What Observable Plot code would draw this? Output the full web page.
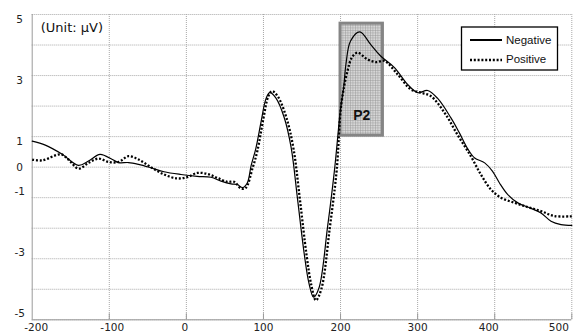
<!DOCTYPE html>
<html><head><meta charset="utf-8">
<script src="https://cdn.jsdelivr.net/npm/d3@7"></script>
<script src="https://cdn.jsdelivr.net/npm/@observablehq/plot@0.6"></script>
<style>
body{margin:0;background:#fff}
#chart{position:relative;width:574px;height:334px}
svg{display:block}
</style>
</head><body><div id="chart"></div>
<script>
// ---- data ----
const negTime  = [-200,-183,-161,-140,-127,-112,-96,-88,-75,-62,-46,-29,-7,14,32,45,58,66,73,79,84,90,97,103,108,116,127,136,144,153,159,165,172,183,192,200,204,207,213,225,239,252,270,287,300,313,326,343,354,365,374,387,397,406,417,430,447,460,473,486,500];
const negValue = [0.85,0.72,0.42,0.06,0.2,0.42,0.25,0.15,0.15,0.09,-0.02,-0.15,-0.24,-0.3,-0.33,-0.46,-0.55,-0.57,-0.67,-0.52,0.05,0.6,1.5,2.22,2.44,2.27,1.62,0.63,-1.0,-2.86,-3.8,-4.26,-3.96,-1.99,-0.13,1.9,2.6,3.37,4.13,4.43,4.02,3.64,3.26,2.71,2.44,2.51,2.25,1.62,1.13,0.6,0.3,0.14,-0.13,-0.51,-0.9,-1.17,-1.35,-1.5,-1.77,-1.88,-1.91];
const posTime  = [-200,-187,-163,-153,-140,-127,-114,-101,-88,-75,-62,-46,-29,-12,1,14,27,40,53,62,71,77,86,92,100,106,111,119,130,139,147,156,162,168,175,186,195,201,209,215,222,235,246,257,274,291,304,317,335,352,369,382,395,408,426,443,460,477,500];
const posValue = [0.25,0.22,0.42,0.25,-0.05,0.14,0.28,0.17,0.17,0.36,0.25,0.0,-0.24,-0.37,-0.33,-0.19,-0.22,-0.35,-0.48,-0.48,-0.7,-0.68,-0.02,0.52,1.6,2.3,2.49,2.3,1.6,0.6,-1.0,-2.9,-3.85,-4.36,-4.0,-2.0,-0.1,2.06,3.15,3.6,3.75,3.53,3.44,3.48,3.04,2.55,2.44,2.33,1.78,1.05,0.36,-0.24,-0.73,-1.0,-1.17,-1.31,-1.44,-1.6,-1.61];
const seriesNames = ["Negative","Positive"];
const xTicks = [-200,-100,0,100,200,300,400,500];
const yGrid = [-5,-4,-3,-2,-1,0,1,2,3,4,5];
const yLabels = [5,3,1,0,-1,-3,-5];
const unitLabel = "(Unit: μV)";
const p2Window = [{x1:200, x2:255, y1:1.03, y2:4.7, label:"P2"}];

// ---- style (label nudges as drawn in the original) ----
const xLabelDx = {"-200":4, "-100":3, "0":-1.5, "100":0, "200":0, "300":0, "400":-6, "500":-13};
const yLabelDy = v => v > 0 ? 5.5 : v < 0 ? -6.5 : 0;

const negative = negTime.map((t,i)=>({t, v:negValue[i]}));
const positive = posTime.map((t,i)=>({t, v:posValue[i]}));

const font = "DejaVu Sans";
const tickStyle = {fontSize:10.5, fontFamily:font, fill:"#222"};
const plot = Plot.plot({
  width: 574, height: 334,
  marginLeft: 31.7, marginRight: 2.7, marginTop: 14, marginBottom: 14.7,
  x: {domain: [-200, 500]},
  y: {domain: [-5, 5]},
  marks: [
    Plot.ruleY(yGrid, {stroke:"#a8a8a8", strokeDasharray:"1,1", strokeWidth:1}),
    Plot.ruleX(xTicks.slice(1), {stroke:"#a8a8a8", strokeDasharray:"1,1", strokeWidth:1}),
    Plot.rect(p2Window, {x1:"x1", x2:"x2", y1:"y1", y2:"y2", fill:"url(#p2grid)", stroke:"#858585", strokeWidth:3}),
    Plot.text(p2Window, {x:d=>(d.x1+d.x2)/2, y:"y1", dy:-20, text:"label", fontWeight:"bold", fontSize:14, fontFamily:"Liberation Sans", fill:"#111"}),
    Plot.ruleX([-200], {stroke:"#9a9a9a", strokeWidth:1}),
    Plot.ruleY([-5], {stroke:"#9a9a9a", strokeWidth:1}),
    Plot.ruleX(xTicks.slice(1), {y1:-5, y2:-5 + 6/30.5, stroke:"#9a9a9a"}),
    Plot.line(positive, {x:"t", y:"v", stroke:"#000", strokeWidth:2.3, strokeDasharray:"2,1.8", strokeLinecap:"butt", curve:"catmull-rom"}),
    Plot.line(negative, {x:"t", y:"v", stroke:"#000", strokeWidth:1.2, curve:"catmull-rom"}),
    ...yLabels.map(v => Plot.axisY([v], {tickSize:0, tickPadding:12.5, textAnchor:"middle", dy:yLabelDy(v), tickFormat:d=>String(d), ...tickStyle})),
    ...xTicks.map(t => Plot.axisX([t], {tickSize:0, tickPadding:4, dx:xLabelDx[String(t)], tickFormat:d=>String(d), ...tickStyle})),
    Plot.text([unitLabel], {frameAnchor:"top-left", dx:8.5, dy:8.5, lineAnchor:"top", textAnchor:"start", fontSize:13, fontFamily:font, fill:"#111"})
  ]
});
document.getElementById("chart").append(plot);

// pattern for the P2 box
const svg = d3.select(plot);
const defs = svg.insert("defs", ":first-child");
const pat = defs.append("pattern").attr("id","p2grid").attr("patternUnits","userSpaceOnUse").attr("width",2.5).attr("height",2.5);
pat.append("rect").attr("width",2.5).attr("height",2.5).attr("fill","#d6d6d6");
pat.append("path").attr("d","M0,0H2.5M0,0V2.5").attr("stroke","#969696").attr("stroke-width",0.9);

// legend
const lg = svg.append("g").attr("font-family","Liberation Sans").attr("font-size",11.5).attr("text-anchor","start");
lg.append("rect").attr("x",461.5).attr("y",27).attr("width",96).attr("height",43).attr("fill","#fff").attr("stroke","#000").attr("stroke-width",1.3);
lg.append("line").attr("x1",470).attr("x2",502).attr("y1",40).attr("y2",40).attr("stroke","#000").attr("stroke-width",2);
lg.append("line").attr("x1",470).attr("x2",502).attr("y1",60).attr("y2",60).attr("stroke","#000").attr("stroke-width",2.3).attr("stroke-dasharray","2,1.8");
lg.append("text").attr("x",506).attr("y",40).attr("dy","0.35em").attr("fill","#111").text(seriesNames[0]);
lg.append("text").attr("x",506).attr("y",59).attr("dy","0.35em").attr("fill","#111").text(seriesNames[1]);
</script>
</body></html>
